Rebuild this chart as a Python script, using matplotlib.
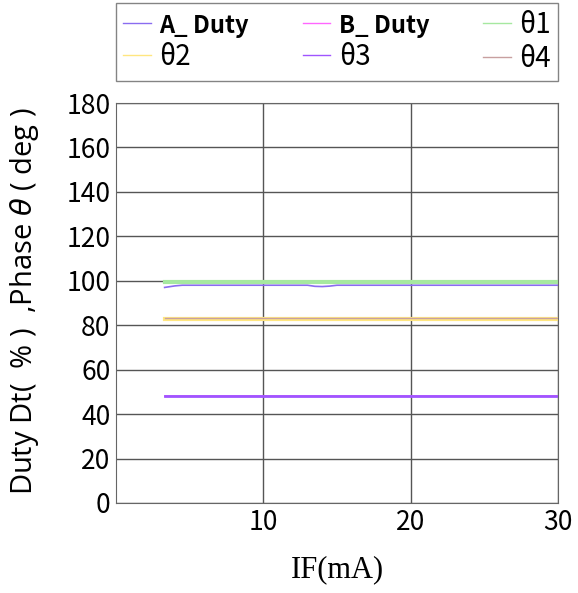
import matplotlib.pyplot as plt
import numpy as np

# current sweep (mA)
if_ma = [3.3, 4.0, 4.5, 5.0, 8.0, 12.0, 13.0, 13.5, 14.0, 14.5, 15.0, 20.0, 25.0, 30.0]

# series values
a_duty = [97.0, 97.7, 98.0, 98.0, 98.0, 98.0, 98.0, 97.5, 97.4, 97.6, 98.0, 98.0, 98.0, 98.0]
b_duty = [48.0] * len(if_ma)
theta1 = [99.5] * len(if_ma)
theta2 = [83.0] * len(if_ma)
theta3 = [48.0] * len(if_ma)
theta4 = [83.4] * len(if_ma)

x_ticks = [10, 20, 30]
y_ticks = list(range(0, 181, 20))

series = [
    ('A_ Duty', a_duty, '#8a6cf0', 1.2),
    ('B_ Duty', b_duty, '#ff66ff', 1.2),
    ('θ1', theta1, '#a6e8a0', 3.0),
    ('θ2', theta2, '#ffe680', 3.0),
    ('θ3', theta3, '#a055ff', 2.0),
    ('θ4', theta4, '#c8a0a0', 1.0),
]

plt.rcParams['font.family'] = ['Noto Sans CJK SC', 'DejaVu Sans']

fig = plt.figure(figsize=(5.78, 5.93), dpi=100)
ax = fig.add_axes([0.2007, 0.1518, 0.7647, 0.6745])

handles = {}
for label, vals, color, lw in series:
    h, = ax.plot(if_ma, vals, color=color, lw=lw, label=label)
    handles[label] = h

ax.set_xlim(0, 30)
ax.set_ylim(0, 180)
ax.set_xticks(x_ticks)
ax.set_yticks(y_ticks)
ax.tick_params(length=0, labelsize=19, pad=4)
ax.grid(True, color='#555555', lw=1.0)
ax.set_axisbelow(True)
for s in ax.spines.values():
    s.set_color('#666666')

ax.set_xlabel('IF(mA)', fontsize=22, family=['Liberation Serif', 'DejaVu Serif'], labelpad=14)
ax.set_ylabel('Duty Dt(  % )  ,Phase $\\theta$ ( deg )', fontsize=21,
              family=['Open Sans', 'DejaVu Sans'], labelpad=2)
ax.yaxis.set_label_coords(-0.17, 0.505)

# legend fills column by column, so order gives rows A/B/θ1 and θ2/θ3/θ4
order = ['A_ Duty', 'θ2', 'B_ Duty', 'θ3', 'θ1', 'θ4']
leg = fig.legend(handles=[handles[k] for k in order], loc='upper left',
                 bbox_to_anchor=(0.2007, 0.86, 0.7647, 0.135),
                 mode='expand', ncol=3, fontsize=20, handlelength=1.0, handletextpad=0.3,
                 borderaxespad=0, fancybox=False, frameon=True, edgecolor='#666666',
                 labelspacing=0.15, borderpad=0.25, columnspacing=1.0)
for t in leg.get_texts():
    if 'Duty' in t.get_text():
        t.set_fontweight('bold')
        t.set_fontsize(17)
for line in leg.get_lines():
    line.set_linewidth(1.0)

fig.savefig('out.png', dpi=100)
